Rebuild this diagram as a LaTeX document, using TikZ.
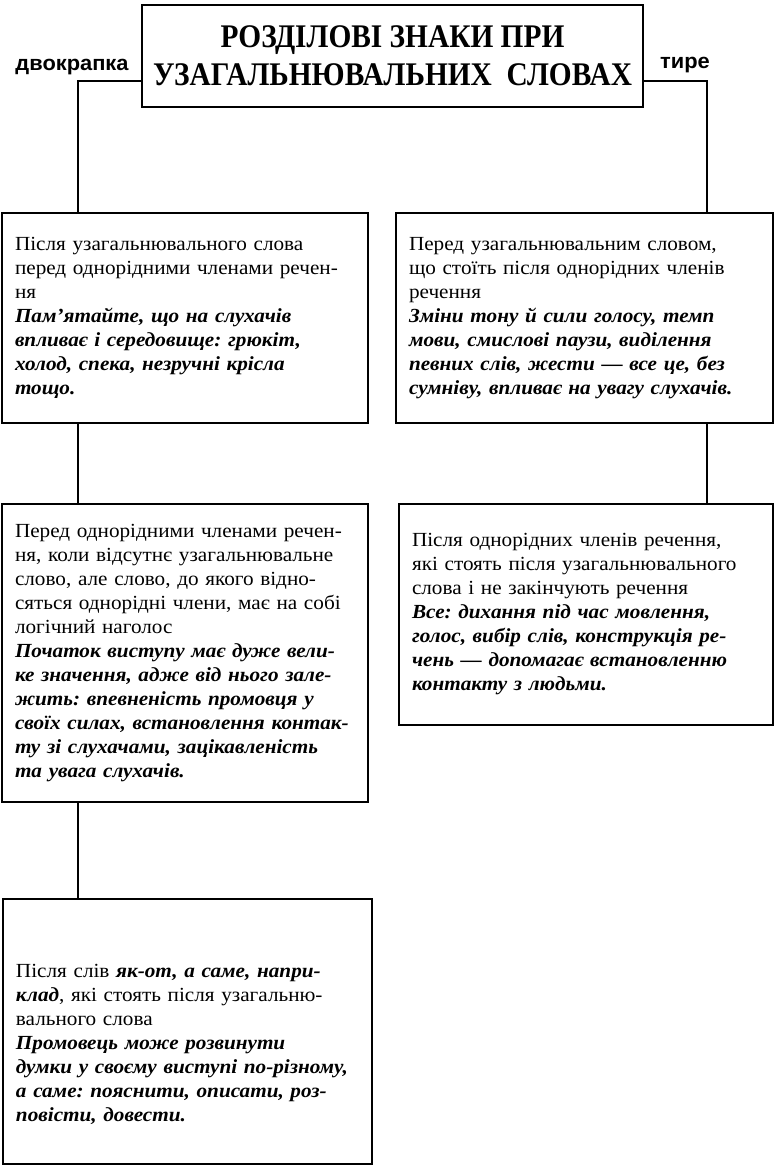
\documentclass[tikz,border=0pt]{standalone}
\usepackage{fontspec}
\setmainfont[FakeStretch=1.06]{Liberation Serif}
\newfontfamily\headfont[FakeStretch=0.89]{Liberation Serif}
\newfontfamily\tagfont[FakeStretch=1.04]{Liberation Sans}
\usetikzlibrary{positioning}
\frenchspacing

\newcommand{\ex}[1]{{\bfseries\itshape #1}}

\begin{document}
\begin{tikzpicture}[
    x=1pt, y=-1pt,
    every node/.style={font=\fontsize{20}{24}\selectfont},
    box/.style={rectangle, draw, line width=2.6pt, inner xsep=13pt, inner ysep=0pt, align=left},
    headbox/.style={rectangle, draw, line width=2.6pt, align=center, minimum width=501, minimum height=102,
                    font=\headfont\bfseries\fontsize{33}{38}\selectfont},
    tag/.style={inner sep=1pt, font=\tagfont\bfseries\fontsize{21}{22}\selectfont},
    conn/.style={line width=2.6pt},
  ]
  \useasboundingbox (0,0) rectangle (776,1167);
  \node[headbox] (head) at (392.5,56) {РОЗДІЛОВІ ЗНАКИ ПРИ\\УЗАГАЛЬНЮВАЛЬНИХ\ \ СЛОВАХ};
  \node[tag, anchor=base] (colon) at (72,70) {двокрапка};
  \node[tag, anchor=base] (dash) at (685,68) {тире};

  \node[box, minimum width=366, minimum height=210, text width=340pt] (colA) at (185,318)
    {Після узагальнювального слова\\перед однорідними членами речен-\\ня\\
     \ex{Пам’ятайте, що на слухачів}\\\ex{впливає і середовище: грюкіт,}\\
     \ex{холод, спека, незручні крісла}\\\ex{тощо.}};
  \node[box, minimum width=366, minimum height=298, text width=340pt] (colB) at (185,653)
    {Перед однорідними членами речен-\\ня, коли відсутнє узагальнювальне\\
     слово, але слово, до якого відно-\\сяться однорідні члени, має на собі\\
     логічний наголос\\
     \ex{Початок виступу має дуже вели-}\\\ex{ке значення, адже від нього зале-}\\
     \ex{жить: впевненість промовця у}\\\ex{своїх силах, встановлення контак-}\\
     \ex{ту зі слухачами, зацікавленість}\\\ex{та увага слухачів.}};
  \node[box, minimum width=369, minimum height=265, text width=343pt] (colC) at (187.5,1031.5)
    {\rule{0pt}{39pt}Після слів \ex{як-от, а саме, напри-}\\\ex{клад}, які стоять після узагальню-\\
     вального слова\\
     \ex{Промовець може розвинути}\\\ex{думки у своєму виступі по-різному,}\\
     \ex{а саме: пояснити, описати, роз-}\\\ex{повісти, довести.}};

  \node[box, minimum width=377, minimum height=210, text width=351pt] (dashA) at (584.5,318)
    {Перед узагальнювальним словом,\\що стоїть після однорідних членів\\речення\\
     \ex{Зміни тону й сили голосу, темп}\\\ex{мови, смислові паузи, виділення}\\
     \ex{певних слів, жести — все це, без}\\\ex{сумніву, впливає на увагу слухачів.}};
  \node[box, minimum width=374, minimum height=221, text width=348pt] (dashB) at (586,614.5)
    {Після однорідних членів речення,\\які стоять після узагальнювального\\
     слова і не закінчують речення\\
     \ex{Все: дихання під час мовлення,}\\\ex{голос, вибір слів, конструкція ре-}\\
     \ex{чень — допомагає встановленню}\\\ex{контакту з людьми.}};

  \coordinate (jl) at (78,81);
  \coordinate (jr) at (707,81);
  \draw[conn] (jl -| head.west) -- (jl) -- (jl |- colA.north);
  \draw[conn] (jr -| head.east) -- (jr) -- (jr |- dashA.north);
  \draw[conn] (colA.south -| jl) -- (colB.north -| jl);
  \draw[conn] (colB.south -| jl) -- (colC.north -| jl);
  \draw[conn] (dashA.south -| jr) -- (dashB.north -| jr);
\end{tikzpicture}
\end{document}
